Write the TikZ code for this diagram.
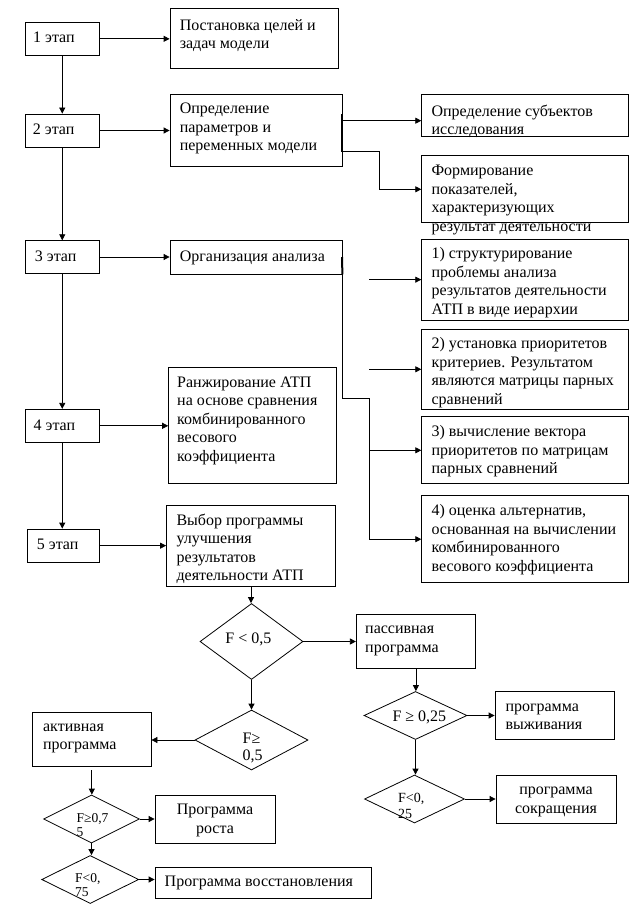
\documentclass[tikz,border=0pt]{standalone}
\usepackage{fontspec}
\setmainfont{Liberation Serif}
\usetikzlibrary{arrows.meta,shapes.geometric,fit}
\begin{document}
\begin{tikzpicture}[x=1pt,y=-1pt,
  fbox/.style={draw, inner sep=0pt, line width=0.8pt},
  dia/.style={draw, diamond, inner sep=0pt, line width=0.8pt},
  txt/.style={inner sep=0pt, anchor=north west, align=left, font=\fontsize{16}{18.5}\selectfont},
  ctxt/.style={txt, anchor=north, align=center},
  arr/.style={line width=0.8pt, -{Triangle[length=6pt,width=6pt]}},
  ln/.style={line width=0.8pt},
  thickln/.style={line width=2pt}]
\useasboundingbox (0,0) rectangle (640,904);
\fill[white] (0,0) rectangle (640,904);

% stage boxes
\node[fbox, fit={(25.3,22.7) (99.2,55)}] (s1) {};
\node[fbox, fit={(25.3,114) (99.2,147)}] (s2) {};
\node[fbox, fit={(25.3,240.7) (99.2,273.3)}] (s3) {};
\node[fbox, fit={(25.3,409.3) (99.2,442.3)}] (s4) {};
\node[fbox, fit={(27.8,529) (99.2,562.3)}] (s5) {};
\node[txt] (s1t) at (33,29.2) {\strut 1 этап};
\node[txt] (s2t) at (32.7,121.5) {\strut 2 этап};
\node[txt] (s3t) at (34.7,248.2) {\strut 3 этап};
\node[txt] (s4t) at (33.5,417.5) {\strut 4 этап};
\node[txt] (s5t) at (36.7,536.5) {\strut 5 этап};

% middle boxes
\node[fbox, fit={(170,8) (338,68)}] (p1) {};
\node[fbox, fit={(170,94.3) (342,166.7)}] (m2) {};
\node[fbox, fit={(170,240.7) (342,274)}] (a1) {};
\node[fbox, fit={(168.6,367.3) (336.7,483.3)}] (k4) {};
\node[fbox, fit={(166.5,505.3) (335.5,586.7)}] (v5) {};
\node[txt] (p1t) at (179.6,17.2) {\strut Постановка целей и\\задач модели};
\node[txt] (m2t) at (179.6,100.8) {\strut Определение\\параметров и\\переменных модели};
\node[txt] (a1t) at (179.6,248.2) {\strut Организация анализа};
\node[txt] (k4t) at (177,374.2) {\strut Ранжирование АТП\\на основе сравнения\\комбинированного\\весового\\коэффициента};
\node[txt] (v5t) at (176.3,512.2) {\strut Выбор программы\\улучшения\\результатов\\деятельности АТП};

% right boxes
\node[fbox, fit={(421.7,94.3) (628,136.7)}] (r1) {};
\node[fbox, fit={(421.7,155) (628,222.7)}] (r2) {};
\node[fbox, fit={(421.7,239.3) (628,320)}] (r3) {};
\node[fbox, fit={(421.7,329.3) (628,409.3)}] (r4) {};
\node[fbox, fit={(421.7,416.7) (628,483.3)}] (r5) {};
\node[fbox, fit={(421.7,495.7) (628,582.7)}] (r6) {};
\node[txt] (r1t) at (431.4,103.2) {\strut Определение субъектов\\исследования};
\node[txt] (r2t) at (431.4,162.5) {\strut Формирование\\показателей,\\характеризующих\\результат деятельности};
\node[txt] (r3t) at (431.4,245.5) {\strut 1) структурирование\\проблемы анализа\\результатов деятельности\\АТП в виде иерархии};
\node[txt] (r4t) at (431.4,335.8) {\strut 2) установка приоритетов\\критериев. Результатом\\являются матрицы парных\\сравнений};
\node[txt] (r5t) at (431.4,423.5) {\strut 3) вычисление вектора\\приоритетов по матрицам\\парных сравнений};
\node[txt] (r6t) at (431.4,502.5) {\strut 4) оценка альтернатив,\\основанная на вычислении\\комбинированного\\весового коэффициента};

% stage connectors
\draw[arr] (s1.south) -- (s1.south |- s2.north);
\draw[arr] (s2.south) -- (s2.south |- s3.north);
\draw[arr] (s3.south) -- (s3.south |- s4.north);
\draw[arr] (s4.south) -- (s4.south |- s5.north);
\draw[arr] (s1.east) -- (s1.east -| p1.west);
\draw[arr] (s2.east) -- (s2.east -| m2.west);
\draw[arr] (s3.east) -- (s3.east -| a1.west);
\draw[arr] (s4.east) -- (s4.east -| k4.west);
\draw[arr] (s5.east) -- (s5.east -| v5.west);

% right connectors
\coordinate (j1) at (342,114);
\coordinate (j0) at (342,120.7);
\coordinate (j2) at (342,151.7);
\coordinate (k2) at (379.3,189.3);
\draw[thickln] (j1) -- (j2);
\draw[arr] (j0) -- (j0 -| r1.west);
\draw[ln] (j2) -| (k2);
\draw[arr] (k2) -- (k2 -| r2.west);

\coordinate (o1) at (342,257);
\coordinate (o2) at (369.3,398.3);
\coordinate (c3) at (369.3,279.65);
\coordinate (c4) at (369.3,369.3);
\coordinate (c5) at (369.3,450.3);
\coordinate (c6) at (369.3,539.2);
\draw[thickln] (o1) -- (a1.south east);
\draw[ln] (a1.south east) |- (o2) -- (c6);
\draw[arr] (c3) -- (c3 -| r3.west);
\draw[arr] (c4) -- (c4 -| r4.west);
\draw[arr] (c5) -- (c5 -| r5.west);
\draw[arr] (c6) -- (c6 -| r6.west);

% decision part
\node[dia, minimum width=103pt, minimum height=76pt] (d1) at (251.5,641.5) {};
\node[dia, minimum width=113pt, minimum height=60pt] (d2) at (251.5,740) {};
\node[dia, minimum width=96pt, minimum height=48pt] (d3) at (91.5,819) {};
\node[dia, minimum width=97pt, minimum height=48pt] (d4) at (90.2,879.5) {};
\node[dia, minimum width=103pt, minimum height=48pt] (d5) at (415.5,715.5) {};
\node[dia, minimum width=100pt, minimum height=48pt] (d6) at (414.5,799) {};
\node[ctxt] (d1t) at (248.4,630.8) {\strut F < 0,5};
\node[txt, font=\fontsize{16}{17}\selectfont] (d2t) at (242.5,731) {\strut F≥\\0,5};
\node[txt, font=\fontsize{13.5}{12}\selectfont] (d3t) at (76.5,813.8) {\strut F≥0,7\\5};
\node[txt, font=\fontsize{13.5}{14}\selectfont] (d4t) at (75,872.5) {\strut F<0,\\75};
\node[ctxt] (d5t) at (419.4,708.2) {\strut F ≥ 0,25};
\node[txt, font=\fontsize{14}{15.5}\selectfont] (d6t) at (398,791.5) {\strut F<0,\\25};

\node[fbox, fit={(356.3,614) (475.5,668.7)}] (pas) {};
\node[fbox, fit={(32.7,712.7) (151,766)}] (akt) {};
\node[fbox, fit={(155,795.7) (275.5,843.3)}] (ros) {};
\node[fbox, fit={(155,867.7) (371.4,898.3)}] (vos) {};
\node[fbox, fit={(495,691.7) (614.3,739.3)}] (vyzh) {};
\node[fbox, fit={(496,775.3) (616.3,823.3)}] (sokr) {};
\node[txt] (past) at (365,620.5) {\strut пассивная\\программа};
\node[txt] (aktt) at (42.9,718.2) {\strut активная\\программа};
\node[ctxt] (rost) at (215,801.5) {\strut Программа\\роста};
\node[txt] (vost) at (164.5,873.8) {\strut Программа восстановления};
\node[txt] (vyzht) at (505.3,698.2) {\strut программа\\выживания};
\node[ctxt] (sokrt) at (556,781.5) {\strut программа\\сокращения};

\draw[arr] (v5.south) -- (v5.south |- d1.north);
\draw[arr] (d1.east) -- (d1.east -| pas.west);
\draw[arr] (d1.south) -- (d2.north);
\draw[arr] (d2.west) -- (d2.west -| akt.east);
\draw[arr] ([yshift=-4pt]akt.south) -- (akt.south |- d3.north);
\draw[arr] (d3.east) -- (d3.east -| ros.west);
\draw[arr] (d3.south) -- (d3.south |- d4.north);
\draw[arr] (d4.east) -- (d4.east -| vos.west);
\draw[arr] (pas.south) -- (pas.south |- d5.north);
\draw[arr] (d5.east) -- (d5.east -| vyzh.west);
\draw[arr] (d5.south) -- (d5.south |- d6.north);
\draw[arr] (d6.east) -- (d6.east -| sokr.west);
\end{tikzpicture}
\end{document}
